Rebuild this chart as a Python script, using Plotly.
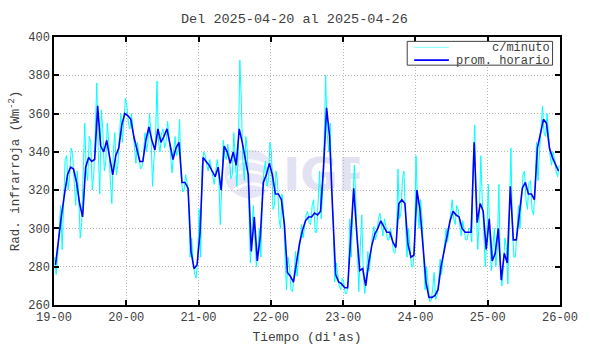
import base64
import plotly.graph_objects as go

# ---------------- data ----------------
tick_labels = ["19-00", "20-00", "21-00", "22-00", "23-00", "24-00", "25-00", "26-00"]

# hourly mean (prom. horario), one value per hour starting 19-00
hourly = [
    281, 295, 307, 318, 328, 332, 331, 324, 313, 306, 332, 337,
    335, 336, 364, 343, 340, 346, 336, 328, 338, 342, 354, 360,
    359, 357, 348, 341, 335, 335, 346, 353, 346, 341, 352, 345,
    348, 352, 344, 336, 342, 345, 324, 324, 321, 288, 279, 281,
    298, 337, 335, 333, 330, 327, 332, 320, 343, 340, 334, 340,
    333, 352, 345, 337, 328, 288, 306, 283, 296, 324, 328, 334,
    328, 318, 318, 315, 302, 277, 275, 272, 283, 292, 299, 304,
    306, 306, 308, 307, 309, 332, 363, 348, 310, 276, 272, 271,
    269, 269, 295, 321, 298, 278, 279, 270, 282, 291, 297, 300,
    304, 301, 298, 298, 293, 290, 313, 315, 313, 292, 285, 286,
    320, 310, 293, 272, 264, 264, 265, 268, 280, 288, 297, 304,
    309, 307, 306, 300, 298, 298, 298, 345, 303, 313, 309, 289,
    305, 283, 287, 300, 273, 287, 282, 322, 294, 294, 308, 321,
    324, 318, 318, 315, 342, 349, 357, 355, 342, 337, 333, 330,
]

# per-minute data (c/minuto): highest and lowest reading in each hour
minute_hi = [
    285, 300, 312, 336, 338, 342, 338, 330, 318, 330, 355, 348,
    345, 350, 376, 362, 352, 355, 345, 340, 350, 348, 360, 368,
    364, 360, 352, 345, 338, 338, 350, 360, 350, 346, 377, 350,
    352, 356, 348, 340, 348, 357, 328, 328, 324, 295, 282, 284,
    310, 340, 338, 336, 332, 330, 336, 322, 346, 344, 338, 350,
    338, 388, 367, 348, 340, 300, 312, 290, 300, 330, 335, 345,
    340, 330, 325, 318, 310, 285, 280, 275, 288, 296, 302, 307,
    309, 312, 315, 312, 330, 345, 380, 355, 320, 282, 276, 274,
    272, 272, 305, 333, 315, 290, 307, 275, 288, 296, 301, 305,
    308, 305, 301, 300, 296, 294, 331, 326, 330, 300, 290, 292,
    338, 315, 305, 280, 268, 268, 277, 272, 284, 292, 300, 308,
    315, 312, 310, 304, 300, 300, 300, 354, 310, 338, 315, 295,
    323, 290, 300, 323, 280, 295, 290, 342, 300, 298, 312, 328,
    330, 324, 325, 320, 345, 355, 364, 360, 346, 340, 336, 333,
]
minute_lo = [
    276, 285, 289, 310, 320, 328, 325, 312, 295, 303, 330, 325,
    320, 328, 340, 318, 330, 335, 325, 313, 328, 333, 345, 355,
    355, 352, 342, 334, 331, 332, 340, 345, 322, 336, 345, 340,
    342, 345, 338, 329, 338, 340, 319, 320, 316, 285, 276, 274,
    285, 333, 333, 330, 327, 323, 328, 302, 338, 336, 326, 328,
    322, 340, 335, 325, 315, 282, 295, 280, 285, 318, 322, 325,
    310, 312, 305, 300, 285, 268, 268, 267, 275, 285, 295, 300,
    303, 302, 298, 298, 305, 320, 350, 340, 305, 272, 270, 268,
    266, 266, 285, 310, 290, 267, 275, 266, 278, 288, 294, 297,
    301, 296, 294, 294, 288, 287, 305, 308, 305, 285, 280, 280,
    312, 300, 285, 268, 262, 262, 263, 265, 276, 285, 293, 300,
    305, 302, 302, 296, 294, 294, 293, 335, 289, 305, 295, 280,
    295, 278, 280, 290, 270, 280, 271, 300, 285, 285, 300, 312,
    315, 310, 310, 307, 325, 340, 350, 348, 338, 333, 330, 327,
]

# ---------------- build traces ----------------
hours = list(range(len(hourly)))
t_hour = [h + 0.5 for h in hours]

t_min, v_min = [], []
for h, (hi, lo) in enumerate(zip(minute_hi, minute_lo)):
    t_min += [h + 0.2, h + 0.7]
    v_min += [hi, lo] if h % 2 == 0 else [lo, hi]

fig = go.Figure()
fig.add_trace(go.Scatter(x=t_min, y=v_min, mode="lines", name="c/minuto",
                         line=dict(color="#00ffff", width=1), showlegend=False))
fig.add_trace(go.Scatter(x=t_hour, y=hourly, mode="lines", name="prom. horario",
                         line=dict(color="#0000ff", width=1.6), showlegend=False))

FONT = "Liberation Mono, Courier New, monospace"
TXT = "#404040"

axis_common = dict(
    showline=True, linecolor="black", linewidth=1.5, mirror="ticks",
    ticks="inside", ticklen=5, tickwidth=1.5, tickcolor="black",
    showgrid=True, gridcolor="#b8b8b8", griddash="1px,2px", gridwidth=1,
    zeroline=False, tickfont=dict(family=FONT, size=12, color=TXT),
)

fig.update_xaxes(range=[0, 168], tickvals=[24 * i for i in range(8)],
                 ticktext=tick_labels,
                 title=dict(text="Tiempo (di'as)", font=dict(family=FONT, size=13, color=TXT),
                            standoff=8),
                 **axis_common)
fig.update_yaxes(range=[260, 400], dtick=20,
                 title=dict(text="Rad. infrarroja (Wm<sup>-2</sup>)",
                            font=dict(family=FONT, size=12.5, color=TXT), standoff=6),
                 **axis_common)

# watermark logo (IGP)
svg = (
    '<svg xmlns="http://www.w3.org/2000/svg" width="137" height="55" viewBox="0 0 137 55">'
    '<circle cx="26" cy="28" r="25" fill="#e6e6f6"/>'
    '<path d="M6 20 Q26 8 48 22" stroke="white" stroke-width="3" fill="none"/>'
    '<path d="M4 32 Q24 18 50 34" stroke="white" stroke-width="3" fill="none"/>'
    '<path d="M10 45 Q28 32 46 44" stroke="white" stroke-width="3" fill="none"/>'
    '<text x="60" y="45" font-family="DejaVu Sans, Arial" font-weight="bold" '
    'font-size="46" fill="#e2e2f3">IGP</text>'
    '</svg>'
)
src = "data:image/svg+xml;base64," + base64.b64encode(svg.encode()).decode()

L, R, T, B = 54, 26, 37, 41
W, H = 590, 354
pw, ph = W - L - R, H - T - B


def px(x):
    return (x - L) / pw


def py(y):
    return (H - B - y) / ph


fig.add_layout_image(dict(source=src, xref="paper", yref="paper",
                          x=px(225), y=py(150), sizex=137 / pw, sizey=55 / ph,
                          xanchor="left", yanchor="top", sizing="stretch", layer="below"))

# legend drawn as a box
fig.add_shape(type="rect", xref="paper", yref="paper",
              x0=px(410), x1=px(556.5), y0=py(66), y1=py(41.5),
              line=dict(color="#404040", width=1), fillcolor="white", layer="above")
fig.add_shape(type="line", xref="paper", yref="paper",
              x0=px(417), x1=px(452), y0=py(47.7), y1=py(47.7),
              line=dict(color="#80ffff", width=1), layer="above")
fig.add_shape(type="line", xref="paper", yref="paper",
              x0=px(417), x1=px(452), y0=py(60.8), y1=py(60.8),
              line=dict(color="#0000ff", width=1.6), layer="above")
for name, yy in [("c/minuto", 48), ("prom. horario", 61.3)]:
    fig.add_annotation(xref="paper", yref="paper", x=px(556), y=py(yy), text=name,
                       showarrow=False, xanchor="right", yanchor="middle",
                       font=dict(family=FONT, size=12, color=TXT))

fig.update_layout(
    width=W, height=H,
    margin=dict(l=L, r=R, t=T, b=B),
    paper_bgcolor="white", plot_bgcolor="rgba(0,0,0,0)",
    title=dict(text="Del 2025-04-20 al 2025-04-26", x=px(308.5), xanchor="center",
               y=1 - 18 / H, yanchor="middle",
               font=dict(family=FONT, size=13.5, color=TXT)),
    showlegend=False,
)

fig.write_html("out.html")
